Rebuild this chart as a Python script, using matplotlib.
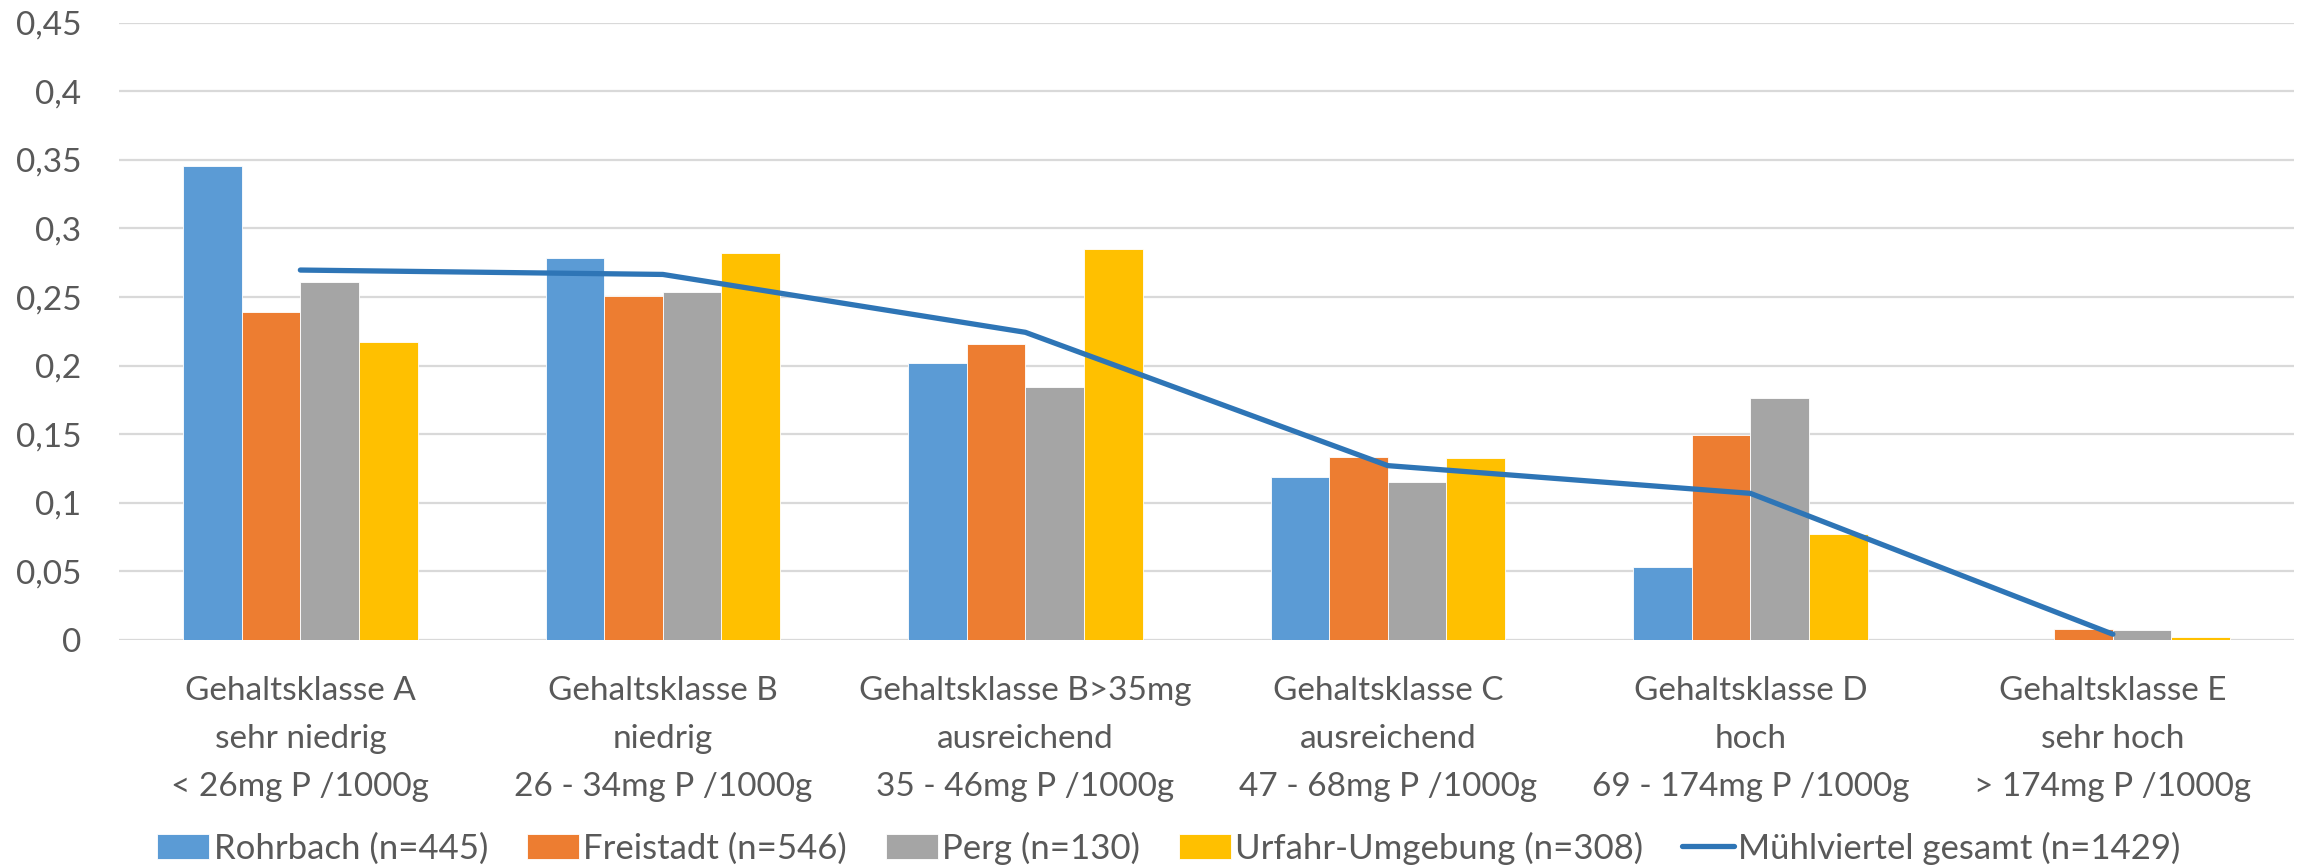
import matplotlib
matplotlib.use("Agg")
import matplotlib.pyplot as plt
import numpy as np
from matplotlib.ticker import FixedLocator, FuncFormatter

plt.rcParams['font.family'] = ['Lato', 'DejaVu Sans']

categories = [
    "Gehaltsklasse A\nsehr niedrig\n< 26mg P /1000g",
    "Gehaltsklasse B\nniedrig\n26 - 34mg P /1000g",
    "Gehaltsklasse B>35mg\nausreichend\n35 - 46mg P /1000g",
    "Gehaltsklasse C\nausreichend\n47 - 68mg P /1000g",
    "Gehaltsklasse D\nhoch\n69 - 174mg P /1000g",
    "Gehaltsklasse E\nsehr hoch\n> 174mg P /1000g",
]
rohrbach = [0.3457, 0.2784, 0.2017, 0.1186, 0.0532, 0.0]
freistadt = [0.2393, 0.2505, 0.2157, 0.1331, 0.1494, 0.0083]
perg = [0.2612, 0.2534, 0.1842, 0.1149, 0.1764, 0.0071]
urfahr = [0.2172, 0.2821, 0.2852, 0.1327, 0.0773, 0.0024]
gesamt = [0.2697, 0.2665, 0.2243, 0.1271, 0.1069, 0.0042]

series_labels = ["Rohrbach (n=445)", "Freistadt (n=546)", "Perg (n=130)",
                 "Urfahr-Umgebung (n=308)"]
line_label = "Mühlviertel gesamt (n=1429)"
yticks = [0, 0.05, 0.1, 0.15, 0.2, 0.25, 0.3, 0.35, 0.4, 0.45]

colors = ["#5B9BD5", "#ED7D31", "#A5A5A5", "#FFC000"]
line_color = "#2E75B6"
text_color = "#595959"

fig = plt.figure(figsize=(23.08, 8.68), dpi=100)
ax = fig.add_axes([0.0516, 0.2627, 0.9424, 0.7111])

x = np.arange(len(categories))
bw = 0.1616
all_series = [rohrbach, freistadt, perg, urfahr]
handles = []
for i, (vals, c, lab) in enumerate(zip(all_series, colors, series_labels)):
    b = ax.bar(x + (i - 1.5) * bw, vals, width=bw, color=c, label=lab,
               edgecolor='white', linewidth=0.6, zorder=2)
    handles.append(b)
ln, = ax.plot(x, gesamt, color=line_color, linewidth=3.8, label=line_label,
              solid_capstyle='round', solid_joinstyle='round', zorder=3)
handles.append(ln)

ax.set_xlim(-0.5, len(categories) - 0.5)
ax.set_ylim(0, 0.45)
ax.yaxis.set_major_locator(FixedLocator(yticks))
ax.yaxis.set_major_formatter(FuncFormatter(lambda v, p: ("%g" % round(v, 2)).replace('.', ',')))
ax.grid(axis='y', color='#D9D9D9', linewidth=1.6, zorder=0)
ax.set_axisbelow(True)
for s in ax.spines.values():
    s.set_visible(False)
ax.tick_params(axis='both', length=0, colors=text_color, labelsize=24)
ax.tick_params(axis='y', pad=27)
ax.tick_params(axis='x', pad=26)
ax.set_xticks(x)
ax.set_xticklabels(categories, linespacing=1.74)

leg = fig.legend(handles=handles, labels=series_labels + [line_label],
                 loc='lower center', bbox_to_anchor=(0.5065, -0.032), ncol=5,
                 frameon=False, fontsize=25, handlelength=1.5, handleheight=0.72,
                 handletextpad=0.12, columnspacing=1.12)
for t in leg.get_texts():
    t.set_color(text_color)

fig.savefig("out.png", dpi=100)
